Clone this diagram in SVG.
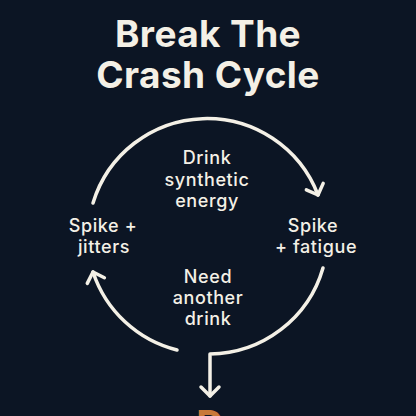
<svg xmlns="http://www.w3.org/2000/svg" width="416" height="416" viewBox="0 0 416 416">
  <defs>
    <style>
      .title { font-family: "Inter", "Noto Sans", "Liberation Sans", sans-serif; font-weight: 700; font-size: 37px; letter-spacing: 0.4px; fill: #f4f0e6; text-anchor: middle; }
      .lbl { font-family: "Inter", "Noto Sans", "Liberation Sans", sans-serif; font-weight: 500; font-size: 18px; letter-spacing: 0.6px; fill: #f4f0e6; text-anchor: middle; }
      .arc { fill: none; stroke: #f4f0e6; stroke-width: 3.5; stroke-linecap: round; stroke-linejoin: round; }
      .accent { font-family: "Inter", "Noto Sans", "Liberation Sans", sans-serif; font-weight: 700; font-size: 38px; fill: #c8793a; text-anchor: middle; }
    </style>
    <marker id="chev" markerUnits="userSpaceOnUse" viewBox="-12 -12 14 24" refX="0" refY="0" markerWidth="14" markerHeight="24" orient="auto" overflow="visible">
      <path d="M -9 -9 L 0 0 L -9 9" fill="none" stroke="#f4f0e6" stroke-width="3.5" stroke-linecap="round" stroke-linejoin="round"/>
    </marker>
  </defs>
  <rect width="416" height="416" fill="#0c1524"/>
  <g id="title">
    <text class="title" x="208" y="47">Break The</text>
    <text class="title" x="208" y="88">Crash Cycle</text>
  </g>
  <g id="connectors">
    <path class="arc" d="M 93 203 A 119 119 0 0 1 318 195" marker-end="url(#chev)"/>
    <path class="arc" d="M 323 268 A 119 119 0 0 1 210 354 L 210 396" marker-end="url(#chev)"/>
    <path class="arc" d="M 177 350 A 119 119 0 0 1 93 272" marker-end="url(#chev)"/>
  </g>
  <g id="node-drink">
    <text class="lbl" x="207" y="164">Drink</text>
    <text class="lbl" x="207" y="185.5">synthetic</text>
    <text class="lbl" x="207" y="207">energy</text>
  </g>
  <g id="node-spike-fatigue">
    <text class="lbl" x="313" y="231.5">Spike</text>
    <text class="lbl" x="316" y="253">+ fatigue</text>
  </g>
  <g id="node-need">
    <text class="lbl" x="208" y="283">Need</text>
    <text class="lbl" x="208" y="304">another</text>
    <text class="lbl" x="208" y="325">drink</text>
  </g>
  <g id="node-spike-jitters">
    <text class="lbl" x="103" y="231.5">Spike +</text>
    <text class="lbl" x="104" y="253">jitters</text>
  </g>
  <g id="next">
    <text class="accent" x="210" y="438">D</text>
  </g>
</svg>
